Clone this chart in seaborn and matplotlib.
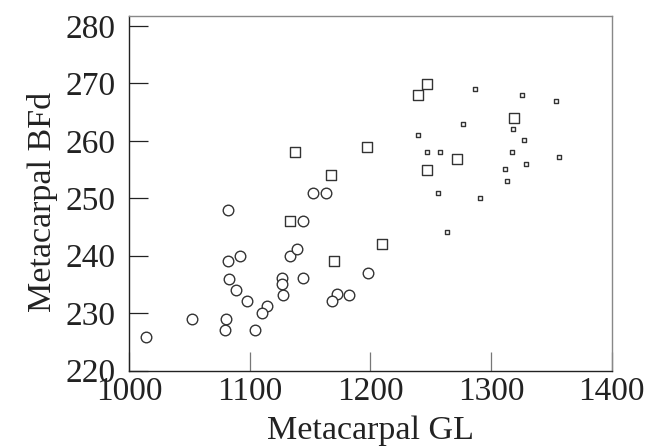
import matplotlib
matplotlib.use("Agg")
import matplotlib.pyplot as plt
import seaborn as sns
import pandas as pd

circ_x = [1013.5, 1051.7, 1079.9, 1079.1, 1104.5, 1081.6, 1081.8, 1092.1, 1082.9, 1088.7,
          1097.3, 1113.9, 1109.8, 1126.9, 1126.3, 1127.7, 1133.0, 1139.1, 1144.0, 1144.0,
          1152.1, 1163.4, 1172.2, 1168.1, 1182.2, 1197.7]
circ_y = [225.9, 229.0, 229.0, 227.0, 227.1, 247.9, 239.0, 240.0, 236.0, 234.0,
          232.1, 231.2, 230.0, 236.2, 235.0, 233.1, 240.0, 241.1, 246.0, 236.1,
          251.0, 251.0, 233.3, 232.2, 233.1, 237.0]

bigsq_x = [1137.4, 1167.0, 1133.0, 1169.8, 1197.4, 1209.6, 1239.7, 1246.6, 1246.9, 1271.8, 1319.0]
bigsq_y = [258.0, 254.0, 246.0, 239.1, 259.0, 242.0, 268.0, 269.8, 255.0, 256.9, 264.0]

smallsq_x = [1239.4, 1246.6, 1257.7, 1255.7, 1263.8, 1276.5, 1286.7, 1290.6, 1311.9, 1313.2,
             1317.1, 1318.5, 1325.7, 1327.4, 1329.0, 1353.6, 1356.4]
smallsq_y = [261.0, 258.0, 258.0, 251.0, 244.1, 263.0, 269.0, 250.0, 255.1, 253.0,
             258.0, 262.0, 268.0, 260.1, 256.0, 267.0, 257.1]

x_ticks = [1000, 1100, 1200, 1300, 1400]
y_ticks = [220, 230, 240, 250, 260, 270, 280]

sns.set_style("white")
plt.rcParams['font.family'] = ['Liberation Serif', 'DejaVu Serif']

fig = plt.figure(figsize=(6.54, 4.47), dpi=100)
ax = fig.add_axes([0.1977, 0.1707, 0.7376, 0.7934])

edge = "#333333"
sns.scatterplot(x=circ_x, y=circ_y, marker="o", s=58, facecolor="white",
                edgecolor=edge, linewidth=1.0, ax=ax)
sns.scatterplot(x=bigsq_x, y=bigsq_y, marker="s", s=56, facecolor="white",
                edgecolor=edge, linewidth=1.0, ax=ax)
sns.scatterplot(x=smallsq_x, y=smallsq_y, marker="s", s=6, facecolor="white",
                edgecolor=edge, linewidth=1.0, ax=ax)

ax.set_xlim(1000, 1400)
ax.set_ylim(220, 281.7)
ax.set_xticks(x_ticks)
ax.set_yticks(y_ticks)
ax.set_xticklabels([str(v) for v in x_ticks])
ax.set_yticklabels([str(v) for v in y_ticks])
ax.tick_params(axis="both", direction="in", length=13.5, width=0.9,
               labelsize=24, labelcolor="#222222", bottom=True, left=True)
ax.tick_params(axis="x", color="#777777", pad=4)
ax.tick_params(axis="y", color="#222222", pad=10)
ax.set_xlabel("Metacarpal GL", fontsize=24.5, color="#222222", labelpad=6)
ax.set_ylabel("Metacarpal BFd", fontsize=24.5, color="#222222")
ax.yaxis.set_label_coords(-0.148, 0.475)

for side in ["left", "bottom"]:
    ax.spines[side].set_color("#222222")
    ax.spines[side].set_linewidth(1.0)
for side in ["top", "right"]:
    ax.spines[side].set_visible(True)
    ax.spines[side].set_color("#888888")
    ax.spines[side].set_linewidth(1.0)

fig.savefig("out.png", dpi=100)
